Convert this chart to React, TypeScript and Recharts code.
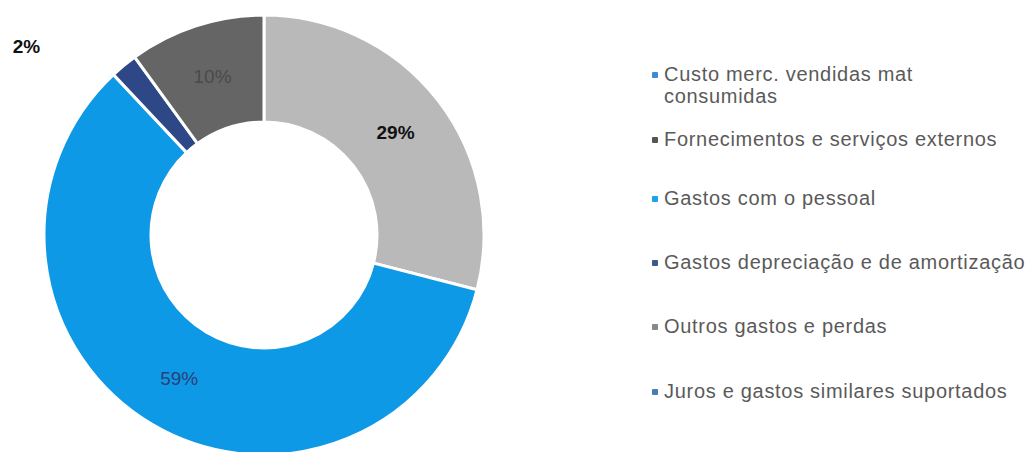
import React from "react";
import { PieChart, Pie, Cell, Legend } from "recharts";

const categories = [
  "Custo merc. vendidas mat consumidas",
  "Fornecimentos e serviços externos",
  "Gastos com o pessoal",
  "Gastos depreciação e de amortização",
  "Outros gastos e perdas",
  "Juros e gastos similares suportados",
];
const shares = [0, 29, 59, 2, 10, 0];
const sliceColors = ["#3d8ad6", "#b9b9b9", "#0d99e5", "#2d4787", "#656565", "#4a7db5"];
const markerColors = ["#3d8ad6", "#555555", "#1da1ec", "#3b5a8a", "#888888", "#4a7db5"];
const labelColors = ["#333", "#111111", "#2b3f7a", "#111111", "#4a4a4a", "#333"];
const labelBold = [false, true, false, true, false, false];

const data = categories.map((name, i) => ({ name, value: shares[i] }));

const RAD = Math.PI / 180;
const FONT = "'Liberation Sans', Arial, sans-serif";

function renderLabel(props: any) {
  const { cx, cy, midAngle, innerRadius, outerRadius, index, value } = props;
  if (!value) return null;
  let r = (innerRadius + outerRadius) / 2;
  let a = midAngle;
  if (value < 5) {
    // small slice: Excel moved it outside
    r = outerRadius + 83;
    a = midAngle + 12;
  }
  const x = cx + r * Math.cos(-a * RAD);
  const y = cy + r * Math.sin(-a * RAD);
  return (
    <text
      x={x}
      y={y}
      textAnchor="middle"
      dominantBaseline="central"
      fill={labelColors[index]}
      fontFamily={FONT}
      fontSize={19}
      fontWeight={labelBold[index] ? 700 : 400}
    >
      {`${value}%`}
    </text>
  );
}

const itemGaps = [21, 37, 42, 42, 43, 0];

function LegendBox() {
  return (
    <div style={{ fontFamily: FONT, fontSize: 20, letterSpacing: 0.7, color: "#5a5a5a", lineHeight: "22px" }}>
      {categories.map((c, i) => (
        <div key={c} style={{ display: "flex", alignItems: "flex-start", marginBottom: itemGaps[i] }}>
          <span
            style={{
              display: "inline-block",
              width: 6,
              height: 6,
              borderRadius: 1,
              background: markerColors[i],
              marginTop: 9,
              marginRight: 6,
              flex: "none",
            }}
          />
          <span style={{ width: i === 0 ? 270 : 400, whiteSpace: i === 0 ? "normal" : "nowrap" }}>{c}</span>
        </div>
      ))}
    </div>
  );
}

export default function App() {
  return (
    <div style={{ position: "absolute", left: 0, top: 0, width: 1027, height: 452, background: "#fff", overflow: "hidden" }}>
      <PieChart width={1027} height={452} margin={{ top: 0, right: 0, bottom: 0, left: 0 }}>
        <Pie
          data={data}
          dataKey="value"
          nameKey="name"
          cx={264}
          cy={235}
          innerRadius={113}
          outerRadius={220}
          startAngle={90}
          endAngle={-270}
          stroke="#ffffff"
          strokeWidth={3}
          label={renderLabel}
          labelLine={false}
          isAnimationActive={false}
        >
          {data.map((d, i) => (
            <Cell key={d.name} fill={sliceColors[i]} />
          ))}
        </Pie>
        <Legend
          layout="vertical"
          align="right"
          verticalAlign="top"
          content={() => <LegendBox />}
          wrapperStyle={{ left: 652, top: 63, width: 380 }}
        />
      </PieChart>
    </div>
  );
}
